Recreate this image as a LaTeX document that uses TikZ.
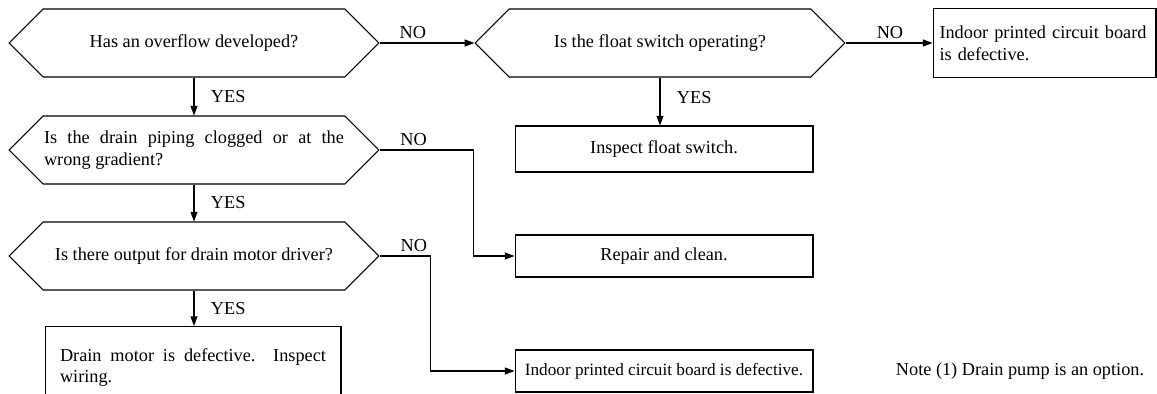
\documentclass[tikz,border=0pt]{standalone}
\usepackage{fontspec}
\setmainfont{Liberation Serif}
\usetikzlibrary{positioning,arrows.meta,shapes.symbols}

\begin{document}
\begin{tikzpicture}[x=0.02cm, y=-0.02cm,
      font=\fontsize{10.4}{12.5}\selectfont,
      line width=0.6pt,
      >={Triangle[length=5.5pt,width=4pt]},
      ask/.style={draw, signal, signal to=east and west, signal pointer angle=90,
                  minimum width=7.4cm, minimum height=1.36cm, inner sep=0pt, align=center},
      act/.style={draw, minimum width=5.96cm, minimum height=#1, inner sep=0pt, align=center},
      act/.default=0.84cm,
      yes/.style={right, xshift=6pt},
      no/.style={above, inner sep=2pt}]
    \useasboundingbox (0,0) rectangle (1157,393);
    \node[ask] (overflow) at (194,43) {Has an overflow developed?};
    \node[ask] (floatq)   at (660,43) {Is the float switch operating?};
    \node[ask] (piping)   at (194,150) {\parbox{6cm}{Is the drain piping clogged or at the\linebreak wrong gradient?}};
    \node[ask] (output)   at (194,256) {Is there output for drain motor driver?};
    \node[draw, text width=4.2cm, inner xsep=0.13cm, inner ysep=0pt, minimum height=1.38cm,
          align=left] (pcbtop) at (1044.5,43) {Indoor printed circuit board is defective.};
    \node[act=0.92cm] (floatsw) at (664,149) {Inspect float switch.};
    \node[act] (repair) at (664,256) {Repair and clean.};
    \node[act, font=\fontsize{9.8}{12}\selectfont] (pcbbot) at (664,371) {Indoor printed circuit board is defective.};
    \node[draw, anchor=north, text width=5.32cm, inner xsep=0.3cm, inner ysep=0pt,
          minimum height=1.64cm, align=justify] (motor) at (193,326)
          {Drain motor is defective.\ \ Inspect wiring.};
    \node (note) at (1020,371) {Note (1) Drain pump is an option.};
    % branches
    \draw[->] (overflow.east) -- node[no, pos=.35] {NO} (floatq.west);
    \draw[->] (floatq.east) -- node[no, pos=.51] {NO} (pcbtop.west);
    \draw[->] (overflow.south) -- node[yes] {YES} (piping.north);
    \draw[->] (floatq.south) -- node[yes, pos=.42] {YES} (floatq.south |- floatsw.north);
    \draw[->] (piping.south) -- node[yes] {YES} (output.north);
    \draw[->] (output.south) -- node[yes] {YES} (output.south |- motor.north);
    \draw[->] (piping.east) -- node[no, pos=.36] {NO} ++(94,0) |- (repair.west);
    \draw[->] (output.east) -- node[no, pos=.67] {NO} ++(51,0) |- (pcbbot.west);
  \end{tikzpicture}
\end{document}
